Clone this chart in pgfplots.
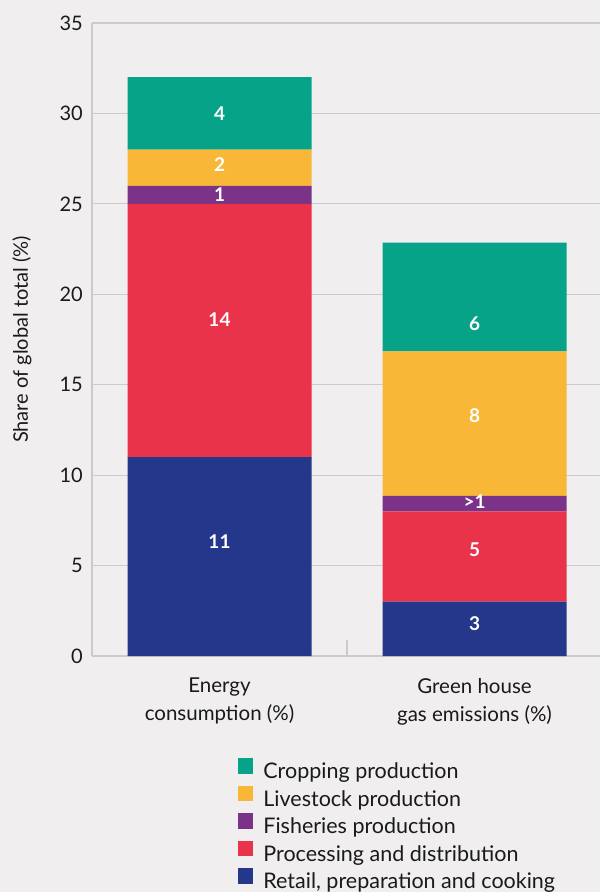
\documentclass[border=0pt]{standalone}
\usepackage{pgfplots}
\pgfplotsset{compat=1.18}
\usepackage{fontspec}
\setmainfont{Lato}
\definecolor{bg}{HTML}{F0EEEF}
\definecolor{gridgrey}{HTML}{CCCACB}
\definecolor{cgreen}{HTML}{07A389}
\definecolor{corange}{HTML}{F9B738}
\definecolor{cpurple}{HTML}{7A3388}
\definecolor{cred}{HTML}{E8334A}
\definecolor{cblue}{HTML}{24378B}
\definecolor{txt}{HTML}{1A1A1A}
\begin{document}
\fontsize{20bp}{28bp}\selectfont
\begin{tikzpicture}
\useasboundingbox[fill=bg] (0,0) rectangle (600bp,892bp);
\begin{axis}[
  at={(92bp,236bp)}, anchor=south west,
  scale only axis, width=508bp, height=633bp,
  xmin=-0.5, xmax=1.492, ymin=0, ymax=35,
  ybar stacked, bar width=184bp,
  /pgf/number format/assume math mode=true,
  axis x line*=bottom, axis y line*=left,
  axis line style={draw=gridgrey, line width=1.2bp},
  ytick={0,5,...,35},
  ymajorgrids, grid style={draw=gridgrey, line width=1.2bp},
  major tick length=0pt,
  yticklabel style={font=\fontsize{20bp}{24bp}\selectfont, text=txt, inner sep=0pt, xshift=-9bp},
  xtick={0,1},
  xticklabels={{Energy\\consumption (\%)},{Green house\\gas emissions (\%)}},
  xticklabel style={align=center, font=\fontsize{20.5bp}{28bp}\selectfont, text=txt, inner sep=0pt, yshift=-22bp},
  extra x ticks={0.5},
  extra x tick labels={},
  extra x tick style={major tick length=16bp, tick align=inside, tick style={draw=gridgrey, line width=1.2bp}},
  ylabel={Share of global total (\%)},
  ylabel style={at={(axis description cs:-0.1378,0.5)}, anchor=center, font=\fontsize{20bp}{24bp}\selectfont, text=txt},
  reverse legend,
  legend cell align=left,
  legend style={at={(axis description cs:0.281,-0.158)}, anchor=north west, draw=none, fill=none,
    font=\fontsize{21.5bp}{24bp}\selectfont, text=txt, row sep=2bp,
    nodes={inner sep=0pt, text height=15bp, text depth=5bp}},
  legend image code/.code={\fill[#1] (0bp,0bp) rectangle (15.5bp,15.5bp); \path (25.5bp,0bp);},
]
\addplot[fill=cblue, draw=none] coordinates {(0,11) (1,3)};
\addlegendentry{Retail, preparation and cooking}
\addplot[fill=cred, draw=none] coordinates {(0,14) (1,5)};
\addlegendentry{Processing and distribution}
\addplot[fill=cpurple, draw=none] coordinates {(0,1) (1,0.85)};
\addlegendentry{Fisheries production}
\addplot[fill=corange, draw=none] coordinates {(0,2) (1,8)};
\addlegendentry{Livestock production}
\addplot[fill=cgreen, draw=none] coordinates {(0,4) (1,6)};
\addlegendentry{Cropping production}
\end{axis}
\begin{axis}[
  at={(92bp,236bp)}, anchor=south west,
  scale only axis, width=508bp, height=633bp,
  xmin=-0.5, xmax=1.492, ymin=0, ymax=35,
  hide axis, clip=false,
]
\addplot[draw=none, mark=none, nodes near coords, point meta=explicit symbolic,
  nodes near coords style={anchor=center, inner sep=0pt, text=white, font=\fontsize{19bp}{20bp}\selectfont\bfseries}]
  table[meta=label] {
x y label
0 30.0 4
0 27.2 2
0 25.5 1
0 18.6 14
0 6.3 11
1 18.35 6
1 13.3 8
1 8.55 >1
1 5.9 5
1 1.8 3
};
\end{axis}
\end{tikzpicture}
\end{document}
